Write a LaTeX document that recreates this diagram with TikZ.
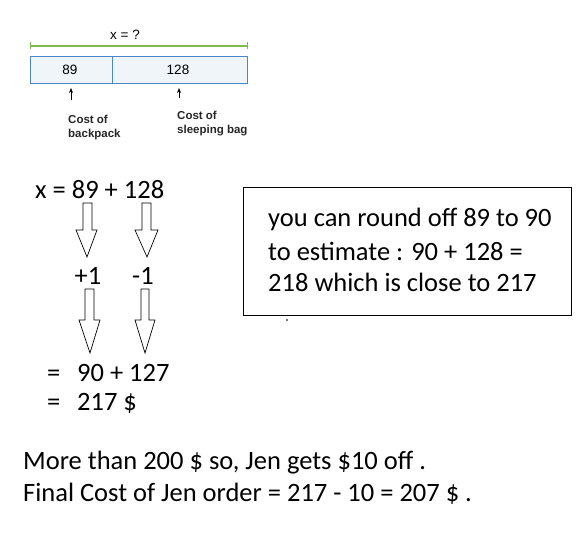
\documentclass[tikz,border=0pt]{standalone}
\usepackage{fontspec}
\setmainfont{Carlito}
\newfontfamily\arialf{Liberation Sans}
\usetikzlibrary{arrows.meta}
\definecolor{barblue}{HTML}{4A86C8}
\definecolor{barfill}{HTML}{F0F5FA}
\definecolor{bargreen}{HTML}{7DBB4E}
\tikzset{
  big/.style={font=\fontsize{26.5}{33}\selectfont, inner sep=0pt, anchor=base west},
  small/.style={font=\arialf\fontsize{13.5}{16}\selectfont, inner sep=0pt},
  label/.style={font=\arialf\bfseries\fontsize{11.5}{14}\selectfont, inner sep=0pt, anchor=base west, text=black!85},
  blockarrow/.style={draw=black, line width=0.7pt, fill=white, line join=miter},
  ptr/.style={-{Stealth[length=5pt,width=4pt]}, line width=0.7pt}
}
\begin{document}
\begin{tikzpicture}[x=1pt,y=-1pt]
\useasboundingbox (0,0) rectangle (588,532);
% top bar model
\draw[bargreen, line width=1.2pt] (30,46) -- (247,46);
\draw[bargreen, line width=1pt] (30,42.5) -- (30,49.5) (247,42.5) -- (247,49.5);
\node[small] (xq) at (125,35) {x = ?};
\draw[barblue, fill=barfill, line width=0.9pt] (30,56) rectangle (247,83);
\draw[barblue, line width=0.9pt] (112,56) -- (112,83);
\node[small] (n89) at (70,70) {89};
\node[small] (n128) at (178,70) {128};
\node[label] (cb1) at (68,123) {Cost of};
\node[label] (cb2) at (68,137) {backpack};
\node[label] (cs1) at (177,119) {Cost of};
\node[label] (cs2) at (177,133) {sleeping bag};
\coordinate (a1) at (71,100);
\coordinate (a2) at (179,98);
\draw[ptr] (a1) -- (71,88);
\draw[ptr] (a2) -- (179,88);
% main equation
\node[big] (eq1) at (35,198.5) {x = 89 + 128};
\draw[blockarrow] (83,203) -- (92,203) -- (92,230) -- (97,230) -- (87,257) -- (76,230) -- (83,230) -- cycle;
\draw[blockarrow] (142,203) -- (151,203) -- (151,230) -- (158,230) -- (147,257) -- (135,230) -- (142,230) -- cycle;
\node[big, anchor=base] (p1) at (88,284.5) {+1};
\node[big, anchor=base] (m1) at (143,284.5) {-1};
\draw[blockarrow] (85,289) -- (94,289) -- (94,320) -- (100,320) -- (90,353) -- (79,320) -- (85,320) -- cycle;
\draw[blockarrow] (141,289) -- (149,289) -- (149,320) -- (155,320) -- (145,353) -- (135,320) -- (141,320) -- cycle;
\node[big] (e2) at (47,381.5) {=};
\node[big] (s2) at (77,381.5) {90 + 127};
\node[big] (e3) at (47,410.5) {=};
\node[big] (s3) at (77,410.5) {217 \$};
% note box
\draw[line width=0.9pt] (243,187) rectangle (571,315);
\node[big] (t1) at (268,226.5) {you can round off 89 to 90};
\node[big] (t2) at (268,260.5) {to estimate : 90 + 128 =};
\node[big] (t3) at (268,291.5) {218 which is close to 217};
\fill (287,320) circle (0.8);
% bottom text
\node[big] (b1) at (23,469.5) {More than 200 \$ so, Jen gets \$10 off .};
\node[big] (b2) at (23,501.5) {Final Cost of Jen order = 217 - 10 = 207 \$ .};
\end{tikzpicture}
\end{document}
